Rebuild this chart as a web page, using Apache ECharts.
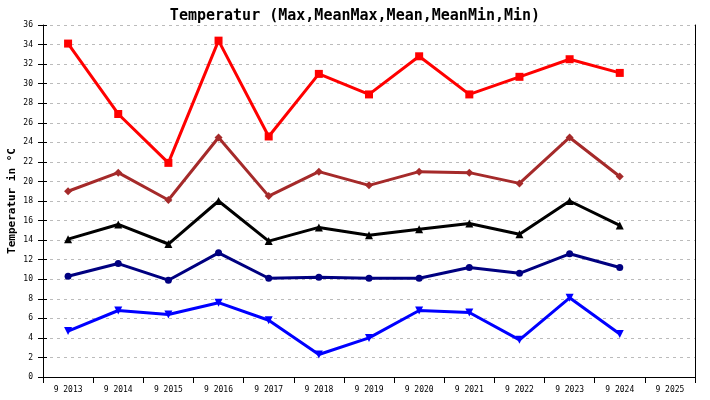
<!DOCTYPE html>
<html>
<head>
<meta charset="utf-8">
<script src="https://cdn.jsdelivr.net/npm/echarts@6/dist/echarts.min.js"></script>
<style>
html,body{margin:0;padding:0;background:#fff;}
#chart{width:710px;height:400px;}
</style>
</head>
<body>
<div id="chart"></div>
<script type="text/javascript">
// Jahre (September)
var years = ['9 2013','9 2014','9 2015','9 2016','9 2017','9 2018','9 2019','9 2020','9 2021','9 2022','9 2023','9 2024','9 2025'];
var tMax     = [34.1, 26.9, 21.9, 34.4, 24.6, 31.0, 28.9, 32.8, 28.9, 30.7, 32.5, 31.1];
var tMeanMax = [19.0, 20.9, 18.1, 24.5, 18.5, 21.0, 19.6, 21.0, 20.9, 19.8, 24.5, 20.5];
var tMean    = [14.1, 15.6, 13.6, 18.0, 13.9, 15.3, 14.5, 15.1, 15.7, 14.6, 18.0, 15.5];
var tMeanMin = [10.3, 11.6, 9.9, 12.7, 10.1, 10.2, 10.1, 10.1, 11.2, 10.6, 12.6, 11.2];
var tMin     = [4.7, 6.8, 6.4, 7.6, 5.8, 2.3, 4.0, 6.8, 6.6, 3.8, 8.1, 4.4];

var font = 'DejaVu Sans Mono';

function serie(name, data, color, symbol, size, rotate) {
    return {
        name: name,
        type: 'line',
        data: data,
        symbol: symbol,
        symbolSize: size,
        symbolRotate: rotate || 0,
        showSymbol: true,
        lineStyle: {color: color, width: 3},
        itemStyle: {color: color},
        animation: false
    };
}

var chart = echarts.init(document.getElementById('chart'));
var option = {
    backgroundColor: '#fff',
    title: {
        text: 'Temperatur (Max,MeanMax,Mean,MeanMin,Min)',
        left: 'center',
        top: 4,
        textStyle: {fontFamily: font, fontSize: 15, fontWeight: 'bold', color: '#000'}
    },
    grid: {left: 43, right: 15, top: 25, bottom: 23, containLabel: false, outerBoundsMode: 'none'},
    xAxis: {
        type: 'category',
        data: years,
        boundaryGap: true,
        axisLine: {lineStyle: {color: '#000', width: 1}},
        axisTick: {show: true, length: 6, lineStyle: {color: '#000'}},
        axisLabel: {fontFamily: font, fontSize: 8, color: '#000', margin: 9, interval: 0},
        splitLine: {show: false}
    },
    yAxis: [{
        type: 'value',
        min: 0, max: 36, interval: 2,
        name: 'Temperatur in °C',
        nameLocation: 'middle',
        nameRotate: 90,
        nameGap: 25,
        nameMoveOverlap: false,
        nameTextStyle: {fontFamily: font, fontSize: 11, fontWeight: 'bold', color: '#000'},
        axisLine: {show: true, lineStyle: {color: '#000', width: 1}},
        axisTick: {show: true, length: 5, lineStyle: {color: '#000'}},
        axisLabel: {fontFamily: font, fontSize: 8, color: '#000', margin: 10},
        splitLine: {show: true, lineStyle: {color: '#bbb', type: [3, 4], width: 1}}
    }, {
        type: 'value',
        position: 'left',
        min: 0, max: 36, interval: 2,
        axisLine: {show: false},
        axisTick: {show: true, inside: true, length: 4, lineStyle: {color: '#000'}},
        axisLabel: {show: false},
        splitLine: {show: false}
    }, {
        type: 'value',
        position: 'right',
        min: 0, max: 36, interval: 2,
        axisLine: {show: true, lineStyle: {color: '#000', width: 1}},
        axisTick: {show: false},
        axisLabel: {show: false},
        splitLine: {show: false}
    }],
    series: [
        serie('Max', tMax, '#ff0000', 'rect', 8),
        serie('MeanMax', tMeanMax, '#a52a2a', 'diamond', 8),
        serie('Mean', tMean, '#000000', 'triangle', 8),
        serie('MeanMin', tMeanMin, '#000080', 'circle', 7),
        serie('Min', tMin, '#0000ff', 'triangle', 8, 180)
    ]
};
chart.setOption(option);
</script>
</body>
</html>
